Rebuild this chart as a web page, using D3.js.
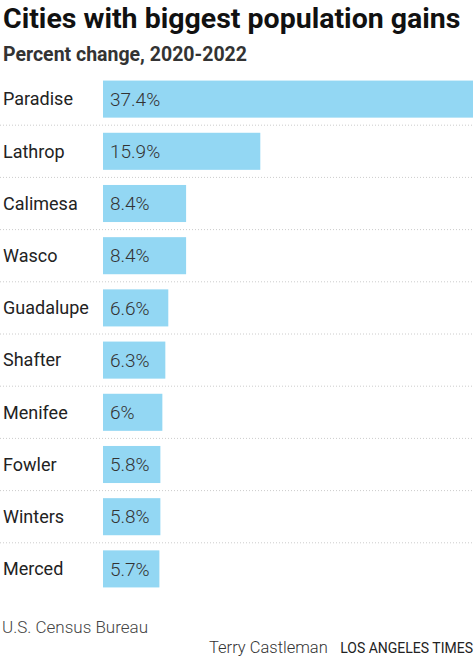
<!DOCTYPE html>
<html><head><meta charset="utf-8">
<script src="https://cdn.jsdelivr.net/npm/d3@7"></script>
<style>body{margin:0;background:#fff}</style></head>
<body><svg id="c" width="474" height="658"></svg>
<script>
const cities = ["Paradise","Lathrop","Calimesa","Wasco","Guadalupe","Shafter","Menifee","Fowler","Winters","Merced"];
const values = [37.4,15.9,8.4,8.4,6.6,6.3,6,5.8,5.8,5.7];
const labels = ["37.4%","15.9%","8.4%","8.4%","6.6%","6.3%","6%","5.8%","5.8%","5.7%"];

const svg = d3.select("#c");
const F = "Roboto, 'Noto Sans', sans-serif";
svg.append("text").attr("x",3).attr("y",28).attr("font-family",F).attr("font-weight",700)
  .attr("font-size",28.5).attr("fill","#111").text("Cities with biggest population gains");
svg.append("text").attr("x",3).attr("y",61).attr("font-family",F).attr("font-weight",700)
  .attr("font-size",19.5).attr("fill","#333").text("Percent change, 2020-2022");

const x = d3.scaleLinear().domain([0,37.4]).range([103,473]);
const y = d3.scaleBand().domain(cities).range([73,595]).paddingInner(0.29).paddingOuter(0.145);
const step = y.step();

const g = svg.append("g");
cities.forEach((c,i)=>{
  const yc = y(c)+y.bandwidth()/2;
  g.append("line").attr("x1",0).attr("x2",474).attr("y1",yc+step/2).attr("y2",yc+step/2)
    .attr("stroke","#ccc").attr("stroke-dasharray","1,2").attr("stroke-width",1)
    .style("display", i===cities.length-1?"none":null);
  g.append("rect").attr("x",x(0)).attr("y",y(c)).attr("width",x(values[i])-x(0))
    .attr("height",y.bandwidth()).attr("fill","#93d7f3");
  g.append("text").attr("x",3).attr("y",yc).attr("dy","0.35em").attr("font-family",F)
    .attr("font-size",18).attr("fill","#222").text(c);
  g.append("text").attr("x",x(0)+7).attr("y",yc).attr("dy","0.35em").attr("font-family",F)
    .attr("font-size",19).attr("font-weight",300).attr("fill","#333").text(labels[i]);
});

svg.append("text").attr("x",2).attr("y",633).attr("font-family",F).attr("font-size",17)
  .attr("font-weight",300).attr("fill","#444").text("U.S. Census Bureau");
svg.append("text").attr("x",209).attr("y",653).attr("font-family",F).attr("font-size",16.5)
  .attr("font-weight",300).attr("fill","#333").text("Terry Castleman");
svg.append("text").attr("x",473).attr("y",653).attr("text-anchor","end").attr("font-family",F)
  .attr("font-size",14).attr("fill","#222").text("LOS ANGELES TIMES");
</script></body></html>
